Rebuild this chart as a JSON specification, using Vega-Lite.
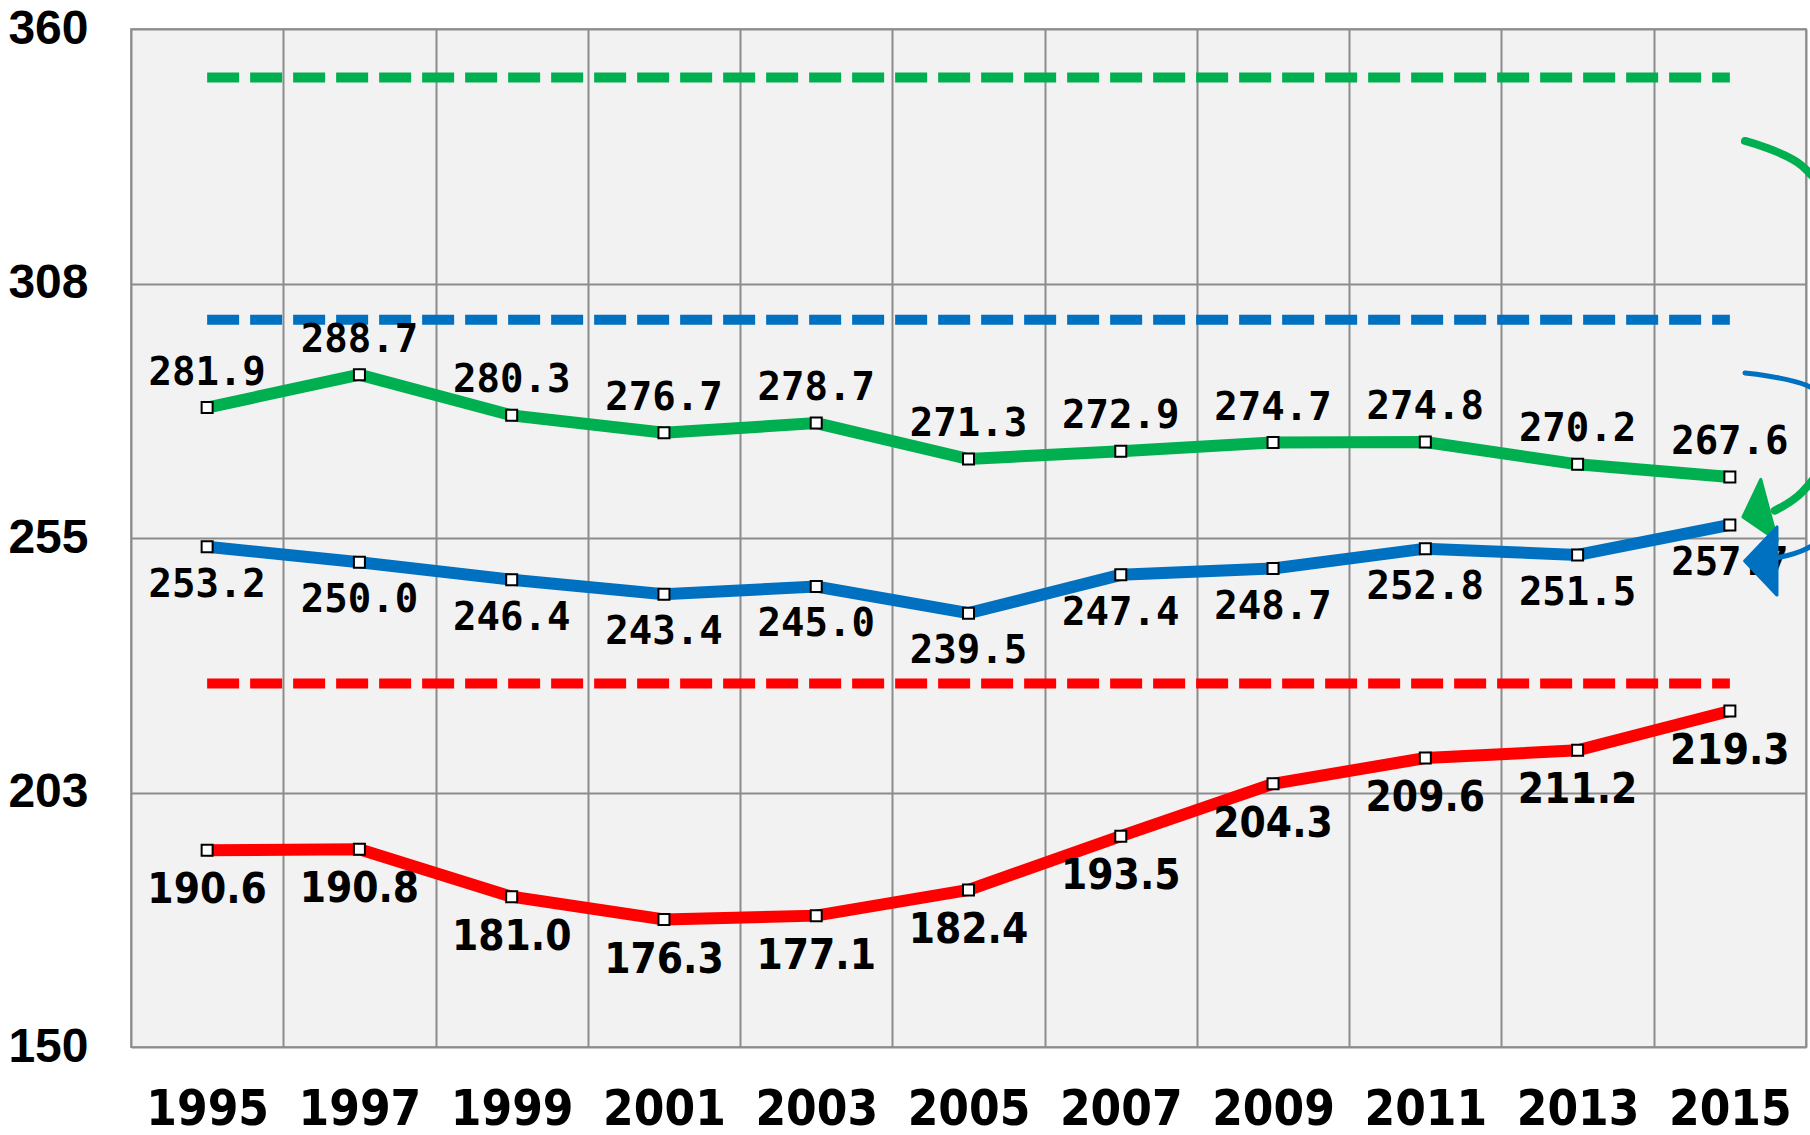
{
  "$schema": "https://vega.github.io/schema/vega-lite/v6.json",
  "width": 1675,
  "height": 1018,
  "autosize": {"type": "none"},
  "padding": {"left": 131, "top": 29, "right": 4, "bottom": 88},
  "background": "white",
  "config": {
    "view": {"fill": "#f2f2f2", "stroke": "#a6a6a6", "strokeWidth": 2},
    "axis": {"domain": false, "ticks": false, "grid": true, "gridColor": "#8c8c8c", "gridWidth": 2, "title": null, "labelColor": "black", "labelFontWeight": "bold"}
  },
  "datasets": {
    "main": [
      {"year": 1995, "series": "green", "value": 281.9},
      {"year": 1997, "series": "green", "value": 288.7},
      {"year": 1999, "series": "green", "value": 280.3},
      {"year": 2001, "series": "green", "value": 276.7},
      {"year": 2003, "series": "green", "value": 278.7},
      {"year": 2005, "series": "green", "value": 271.3},
      {"year": 2007, "series": "green", "value": 272.9},
      {"year": 2009, "series": "green", "value": 274.7},
      {"year": 2011, "series": "green", "value": 274.8},
      {"year": 2013, "series": "green", "value": 270.2},
      {"year": 2015, "series": "green", "value": 267.6},
      {"year": 1995, "series": "blue", "value": 253.2},
      {"year": 1997, "series": "blue", "value": 250.0},
      {"year": 1999, "series": "blue", "value": 246.4},
      {"year": 2001, "series": "blue", "value": 243.4},
      {"year": 2003, "series": "blue", "value": 245.0},
      {"year": 2005, "series": "blue", "value": 239.5},
      {"year": 2007, "series": "blue", "value": 247.4},
      {"year": 2009, "series": "blue", "value": 248.7},
      {"year": 2011, "series": "blue", "value": 252.8},
      {"year": 2013, "series": "blue", "value": 251.5},
      {"year": 2015, "series": "blue", "value": 257.7},
      {"year": 1995, "series": "red", "value": 190.6},
      {"year": 1997, "series": "red", "value": 190.8},
      {"year": 1999, "series": "red", "value": 181.0},
      {"year": 2001, "series": "red", "value": 176.3},
      {"year": 2003, "series": "red", "value": 177.1},
      {"year": 2005, "series": "red", "value": 182.4},
      {"year": 2007, "series": "red", "value": 193.5},
      {"year": 2009, "series": "red", "value": 204.3},
      {"year": 2011, "series": "red", "value": 209.6},
      {"year": 2013, "series": "red", "value": 211.2},
      {"year": 2015, "series": "red", "value": 219.3}
    ],
    "targets": [
      {"year": 1995, "series": "green", "value": 350},
      {"year": 2015, "series": "green", "value": 350},
      {"year": 1995, "series": "blue", "value": 300},
      {"year": 2015, "series": "blue", "value": 300},
      {"year": 1995, "series": "red", "value": 225},
      {"year": 2015, "series": "red", "value": 225}
    ],
    "arcs": [
      {"series": "green", "ord": 0, "year": 2015.199, "value": 336.90},
      {"series": "green", "ord": 1, "year": 2015.954, "value": 331.70},
      {"series": "green", "ord": 2, "year": 2016.507, "value": 317.55},
      {"series": "green", "ord": 3, "year": 2016.709, "value": 298.11},
      {"series": "green", "ord": 4, "year": 2016.507, "value": 278.68},
      {"series": "green", "ord": 5, "year": 2015.954, "value": 264.53},
      {"series": "green", "ord": 6, "year": 2015.590, "value": 260.65},
      {"series": "blue", "ord": 0, "year": 2015.199, "value": 289.04},
      {"series": "blue", "ord": 1, "year": 2016.013, "value": 286.44},
      {"series": "blue", "ord": 2, "year": 2016.609, "value": 279.34},
      {"series": "blue", "ord": 3, "year": 2016.828, "value": 269.65},
      {"series": "blue", "ord": 4, "year": 2016.609, "value": 259.95},
      {"series": "blue", "ord": 5, "year": 2016.013, "value": 252.85},
      {"series": "blue", "ord": 6, "year": 2015.620, "value": 250.91}
    ],
    "heads": [
      {"series": "green", "year": 2015.514, "value": 260.78},
      {"series": "blue", "year": 2015.619, "value": 250.25}
    ]
  },
  "encoding": {
    "x": {
      "field": "year", "type": "quantitative",
      "scale": {"domain": [1994, 2016], "nice": false, "zero": false},
      "axis": {
        "values": [1994, 1995, 1996, 1997, 1998, 1999, 2000, 2001, 2002, 2003, 2004, 2005, 2006, 2007, 2008, 2009, 2010, 2011, 2012, 2013, 2014, 2015, 2016],
        "format": "d",
        "labelExpr": "datum.value % 2 == 1 ? datum.label : ''",
        "gridOpacity": {"condition": {"test": "datum.value % 2 == 0", "value": 1}, "value": 0},
        "labelFont": "DejaVu Sans Condensed",
        "labelFontSize": 49,
        "labelBaseline": "alphabetic",
        "labelPadding": 77,
        "labelOverlap": false,
        "labelFlush": false,
        "labelBound": false
      }
    },
    "y": {
      "field": "value", "type": "quantitative",
      "scale": {"domain": [150, 360], "nice": false, "zero": false},
      "axis": {
        "values": [150, 202.5, 255, 307.5, 360],
        "labelExpr": "format(datum.value, '.0f')",
        "labelFont": "Liberation Sans",
        "labelFontSize": 48,
        "labelAlign": "right",
        "labelBaseline": "middle",
        "labelPadding": 43,
        "labelOverlap": false,
        "labelFlush": false,
        "labelBound": false
      }
    }
  },
  "layer": [
    {
      "data": {"name": "targets"},
      "mark": {"type": "line", "strokeWidth": 10, "strokeDash": [32, 11], "strokeCap": "butt"},
      "encoding": {
        "color": {"field": "series", "type": "nominal", "scale": {"domain": ["green", "blue", "red"], "range": ["#00b050", "#0070c0", "#ff0000"]}, "legend": null}
      }
    },
    {
      "data": {"name": "main"},
      "mark": {"type": "line", "strokeWidth": 12, "strokeJoin": "miter"},
      "encoding": {
        "color": {"field": "series", "type": "nominal", "scale": {"domain": ["green", "blue", "red"], "range": ["#00b050", "#0070c0", "#ff0000"]}, "legend": null}
      }
    },
    {
      "data": {"name": "main"},
      "mark": {"type": "point", "shape": "square", "filled": true, "fill": "white", "stroke": "black", "strokeWidth": 2, "size": 121, "opacity": 1}
    },
    {
      "data": {"name": "main"},
      "transform": [{"filter": "datum.series == 'green'"}],
      "mark": {"type": "text", "font": "DejaVu Sans Mono", "fontSize": 39, "fontWeight": "bold", "align": "center", "baseline": "alphabetic", "dy": -23, "color": "black"},
      "encoding": {"text": {"field": "value", "type": "quantitative", "format": ".1f"}}
    },
    {
      "data": {"name": "main"},
      "transform": [{"filter": "datum.series == 'blue'"}],
      "mark": {"type": "text", "font": "DejaVu Sans Mono", "fontSize": 39, "fontWeight": "bold", "align": "center", "baseline": "alphabetic", "dy": 50, "color": "black"},
      "encoding": {"text": {"field": "value", "type": "quantitative", "format": ".1f"}}
    },
    {
      "data": {"name": "main"},
      "transform": [{"filter": "datum.series == 'red'"}],
      "mark": {"type": "text", "font": "DejaVu Sans Condensed", "fontSize": 42, "fontWeight": "bold", "align": "center", "baseline": "alphabetic", "dy": 53, "color": "black"},
      "encoding": {"text": {"field": "value", "type": "quantitative", "format": ".1f"}}
    },
    {
      "data": {"name": "arcs"},
      "transform": [{"filter": "datum.series == 'green'"}],
      "mark": {"type": "line", "strokeWidth": 8, "strokeCap": "round", "interpolate": "catmull-rom", "color": "#00b050"},
      "encoding": {"order": {"field": "ord", "type": "quantitative"}}
    },
    {
      "data": {"name": "arcs"},
      "transform": [{"filter": "datum.series == 'blue'"}],
      "mark": {"type": "line", "strokeWidth": 5, "strokeCap": "round", "interpolate": "catmull-rom", "color": "#0070c0"},
      "encoding": {"order": {"field": "ord", "type": "quantitative"}}
    },
    {
      "data": {"name": "heads"},
      "transform": [{"filter": "datum.series == 'green'"}],
      "mark": {"type": "point", "shape": "M-0.85,0L0,-1L0,1Z", "size": 4030, "angle": -15, "filled": true, "color": "#00b050", "stroke": "#00b050", "strokeWidth": 3, "strokeJoin": "round", "opacity": 1}
    },
    {
      "data": {"name": "heads"},
      "transform": [{"filter": "datum.series == 'blue'"}],
      "mark": {"type": "point", "shape": "M-0.95,0L0,-1L0,1Z", "size": 4650, "filled": true, "color": "#0070c0", "stroke": "#0070c0", "strokeWidth": 3, "strokeJoin": "round", "opacity": 1}
    }
  ]
}
